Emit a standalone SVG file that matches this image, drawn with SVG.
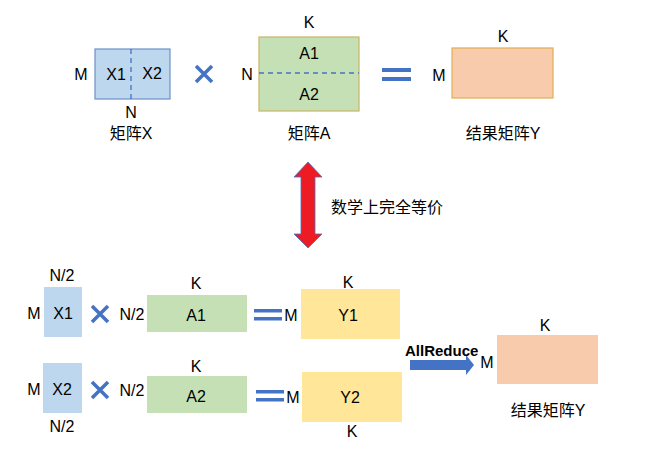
<svg xmlns="http://www.w3.org/2000/svg" width="650" height="450" viewBox="0 0 650 450">
<style>
text{font-family:"Liberation Sans","Noto Sans CJK SC",sans-serif;font-size:16px;fill:#000;text-anchor:middle;dominant-baseline:central}
.b{fill:#BDD7EE}
.g{fill:#C5E0B4}
.y{fill:#FFE699}
.o{fill:#F8CBAD}
.x{stroke:#4472C4;stroke-width:3.5;fill:none}
.eq{fill:#4472C4}
.d{stroke:#4472C4;stroke-width:1.3;stroke-dasharray:5,4;fill:none}
</style>
<rect width="650" height="450" fill="#fff"/>
<!-- top -->
<g id="matX">
<rect class="b" x="95" y="49" width="75" height="50" stroke="#6E8FC9" stroke-width="1.2"/>
<line class="d" x1="131" y1="49" x2="131" y2="99"/>
<text x="116" y="74">X1</text><text x="152" y="73">X2</text>
<text x="81" y="74">M</text><text x="131" y="112">N</text>
<text x="131" y="133">矩阵X</text>
</g>
<g id="times1"><path class="x" d="M196 66L212 82M212 66L196 82"/></g>
<g id="matA">
<rect class="g" x="259" y="37" width="100" height="74" stroke="#C9B466" stroke-width="1.2"/>
<line class="d" x1="259" y1="73" x2="359" y2="73"/>
<text x="309" y="53">A1</text><text x="309" y="94">A2</text>
<text x="309" y="22">K</text><text x="247" y="74">N</text>
<text x="309" y="133">矩阵A</text>
</g>
<g id="eq1"><rect class="eq" x="382" y="68" width="29" height="4"/><rect class="eq" x="382" y="77" width="29" height="4"/></g>
<g id="matY">
<rect class="o" x="452" y="48" width="101" height="50" stroke="#E0B050" stroke-width="1.2"/>
<text x="503" y="36">K</text><text x="439" y="75">M</text>
<text x="503" y="133">结果矩阵Y</text>
</g>
<g id="equiv">
<path d="M308 162L322 177L315 177L315 234L322 234L308 248L294 234L301 234L301 177L294 177Z" fill="#ED1C24" stroke="#4472C4" stroke-width="0.8"/>
<text x="331" y="207" style="text-anchor:start">数学上完全等价</text>
</g>
<!-- bottom row 1 -->
<g id="X1">
<rect class="b" x="44" y="287" width="38" height="50"/>
<text x="63" y="313">X1</text><text x="62" y="275">N/2</text><text x="34" y="313">M</text>
</g>
<g id="times2"><path class="x" d="M92 306L108 322M108 306L92 322"/></g>
<g id="A1">
<rect class="g" x="147" y="295" width="100" height="37"/>
<text x="132" y="314">N/2</text><text x="196" y="283">K</text><text x="196" y="315">A1</text>
</g>
<g id="eq2"><rect class="eq" x="254" y="309" width="28" height="3.5"/><rect class="eq" x="254" y="317" width="28" height="3.5"/></g>
<g id="Y1">
<rect class="y" x="301" y="289" width="99" height="50"/>
<text x="291" y="315">M</text><text x="348" y="282">K</text><text x="348" y="315">Y1</text>
</g>
<!-- bottom row 2 -->
<g id="X2">
<rect class="b" x="43" y="363" width="39" height="50"/>
<text x="62" y="389">X2</text><text x="62" y="426">N/2</text><text x="34" y="389">M</text>
</g>
<g id="times3"><path class="x" d="M92 382L108 398M108 382L92 398"/></g>
<g id="A2">
<rect class="g" x="147" y="376" width="100" height="37"/>
<text x="132" y="390">N/2</text><text x="196" y="366">K</text><text x="196" y="396">A2</text>
</g>
<g id="eq3"><rect class="eq" x="256" y="390" width="28" height="3.5"/><rect class="eq" x="256" y="398" width="28" height="3.5"/></g>
<g id="Y2">
<rect class="y" x="302" y="372" width="100" height="50"/>
<text x="293" y="397">M</text><text x="350" y="397">Y2</text><text x="352" y="431">K</text>
</g>
<g id="connectors">
<path d="M410 360L466 360L466 355L474 365L466 375L466 370L410 370Z" fill="#4472C4"/>
<text x="405" y="350" style="text-anchor:start;font-weight:bold;font-size:15px">AllReduce</text>
</g>
<g id="result">
<rect class="o" x="497" y="335" width="101" height="49"/>
<text x="545" y="325">K</text><text x="487" y="362">M</text>
<text x="548" y="410">结果矩阵Y</text>
</g>
</svg>
